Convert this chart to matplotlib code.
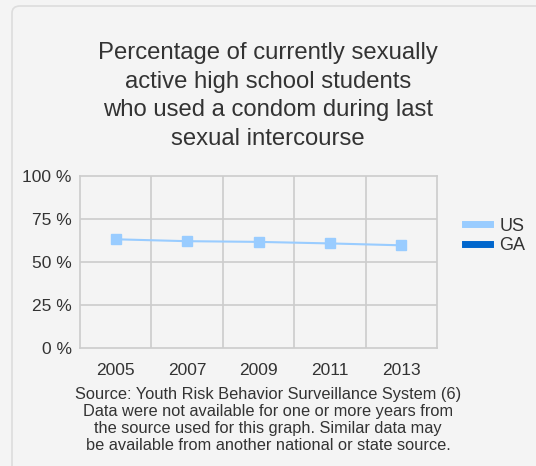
import matplotlib
matplotlib.use("Agg")
import matplotlib.pyplot as plt
from matplotlib.patches import FancyBboxPatch
from matplotlib.lines import Line2D

plt.rcParams['font.family'] = ['Liberation Sans', 'DejaVu Sans']

years = ["2005", "2007", "2009", "2011", "2013"]
us = [63.2, 62.1, 61.7, 60.8, 59.7]
yticks = [0, 25, 50, 75, 100]
ytick_labels = ["0 %", "25 %", "50 %", "75 %", "100 %"]
title = ("Percentage of currently sexually\nactive high school students\n"
         "who used a condom during last\nsexual intercourse")
source = ("Source: Youth Risk Behavior Surveillance System (6)\n"
          "Data were not available for one or more years from\n"
          "the source used for this graph. Similar data may\n"
          "be available from another national or state source.")

W, H = 536, 466
fig = plt.figure(figsize=(W/100, H/100), dpi=100)
fig.patch.set_facecolor('#f4f4f4')

# panel border
box = FancyBboxPatch((12/W, -20/H), 600/W, 480/H, boxstyle="round,pad=0,rounding_size=0.015",
                     transform=fig.transFigure, facecolor='#f4f4f4', edgecolor='#dddddd',
                     linewidth=1.2, zorder=-5)
fig.patches.append(box)

ax = fig.add_axes([80/W, 1-348/H, (437-80)/W, (348-176)/H])
ax.set_zorder(2)
ax.set_facecolor('#f4f4f4')
x = list(range(len(years)))
ax.plot(x, us, color='#99ccff', linewidth=1.5, marker='s', markersize=7.8,
        markeredgecolor='#99ccff', zorder=3)
ax.set_xlim(-0.5, len(years)-0.5)
ax.set_ylim(0, 100)
ax.set_xticks(x)
ax.set_xticklabels(years, fontsize=12.5, color='#333333')
ax.set_yticks(yticks)
ax.set_yticklabels(ytick_labels, fontsize=12.5, color='#333333')
ax.grid(False)
for v in yticks[1:-1]:
    ax.axhline(v, color='#cccccc', linewidth=1.2, zorder=1)
for v in [i + 0.5 for i in x[:-1]]:
    ax.axvline(v, color='#cccccc', linewidth=1.2, zorder=1)
for s in ax.spines.values():
    s.set_color('#cccccc')
    s.set_linewidth(1.2)
ax.tick_params(axis='y', which='both', length=0, pad=6)
ax.tick_params(axis='x', which='both', length=0, pad=11)

fig.text(268/W, 1-96/H, title, ha='center', va='center', fontsize=17.2,
         color='#333333', linespacing=1.38)
fig.text(268/W, 1-420/H, source, ha='center', va='center', fontsize=11.8,
         color='#333333', linespacing=1.17)

handles = [Line2D([], [], color='#99ccff', linewidth=5),
           Line2D([], [], color='#0066cc', linewidth=5)]
fig.legend(handles, ["US", "GA"], loc='center left', bbox_to_anchor=(465/W, 1-236/H),
           frameon=False, fontsize=13, handlelength=1.4, handletextpad=0.5,
           labelspacing=0.15, borderpad=0, borderaxespad=0, labelcolor='#333333')

fig.savefig("out.png", dpi=100, facecolor=fig.get_facecolor())
